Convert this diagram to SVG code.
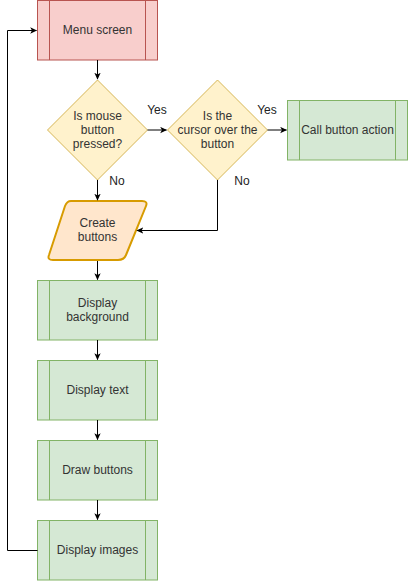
<svg xmlns="http://www.w3.org/2000/svg" width="408" height="581" viewBox="0 0 408 581">
<defs>
<marker id="arr" viewBox="0 0 10 10" refX="9" refY="5" markerWidth="7" markerHeight="7" markerUnits="userSpaceOnUse" orient="auto">
<path d="M0,0.5 L10,5 L0,9.5 L2.5,5 Z" fill="#000"/>
</marker>
</defs>
<style>
text{font-family:"Liberation Sans",Arial,sans-serif;font-size:12px;fill:#333;text-anchor:middle;}
.lbl{fill:#222;}
.red{fill:#f8cecc;stroke:#b85450;stroke-width:1;}
.green{fill:#d5e8d4;stroke:#82b366;stroke-width:1;}
.yellow{fill:#fff2cc;stroke:#d6b656;stroke-width:1;}
.orange{fill:#ffe6cc;stroke:#d79b00;stroke-width:2;}
.edge{fill:none;stroke:#000;stroke-width:1;marker-end:url(#arr);}
</style>
<rect width="408" height="581" fill="#fff"/>
<g id="menu">
<rect class="red" x="37.5" y="0.5" width="120" height="59.5"/>
<line class="red" x1="49.5" y1="0.5" x2="49.5" y2="60"/>
<line class="red" x1="145.5" y1="0.5" x2="145.5" y2="60"/>
<text x="97.5" y="34">Menu screen</text>
</g>
<g id="d1">
<path class="yellow" d="M97.5,80 L147.5,130 L97.5,180 L47.5,130 Z"/>
<text x="97.5" y="120">Is mouse</text>
<text x="97.5" y="134">button</text>
<text x="97.5" y="148">pressed?</text>
</g>
<g id="d2">
<path class="yellow" d="M217.5,80 L267.5,130 L217.5,180 L167.5,130 Z"/>
<text x="217.5" y="120">Is the</text>
<text x="217.5" y="134">cursor over the</text>
<text x="217.5" y="148">button</text>
</g>
<g id="call">
<rect class="green" x="287.5" y="100.5" width="120" height="59.5"/>
<line class="green" x1="299.5" y1="100.5" x2="299.5" y2="160"/>
<line class="green" x1="395.5" y1="100.5" x2="395.5" y2="160"/>
<text x="347.5" y="134">Call button action</text>
</g>
<g id="create">
<path class="orange" d="M71,201 L142,201 Q148,201 146,206 L126,255 Q124,260 118,260 L53,260 Q47,260 49,255 L65,206 Q67,201 71,201 Z"/>
<text x="97.5" y="227">Create</text>
<text x="97.5" y="241">buttons</text>
</g>
<g id="bg">
<rect class="green" x="37.5" y="280.5" width="120" height="59.5"/>
<line class="green" x1="49.5" y1="280.5" x2="49.5" y2="340"/>
<line class="green" x1="145.5" y1="280.5" x2="145.5" y2="340"/>
<text x="97.5" y="307">Display</text>
<text x="97.5" y="321">background</text>
</g>
<g id="txt">
<rect class="green" x="37.5" y="360.5" width="120" height="59.5"/>
<line class="green" x1="49.5" y1="360.5" x2="49.5" y2="420"/>
<line class="green" x1="145.5" y1="360.5" x2="145.5" y2="420"/>
<text x="97.5" y="394">Display text</text>
</g>
<g id="draw">
<rect class="green" x="37.5" y="440.5" width="120" height="59.5"/>
<line class="green" x1="49.5" y1="440.5" x2="49.5" y2="500"/>
<line class="green" x1="145.5" y1="440.5" x2="145.5" y2="500"/>
<text x="97.5" y="474">Draw buttons</text>
</g>
<g id="img">
<rect class="green" x="37.5" y="520.5" width="120" height="59.5"/>
<line class="green" x1="49.5" y1="520.5" x2="49.5" y2="580"/>
<line class="green" x1="145.5" y1="520.5" x2="145.5" y2="580"/>
<text x="97.5" y="554">Display images</text>
</g>
<g id="edges">
<path class="edge" d="M97.5,60 L97.5,79"/>
<path class="edge" d="M147.5,130 L166.5,130"/>
<path class="edge" d="M267.5,130 L286.5,130"/>
<path class="edge" d="M97.5,180 L97.5,200"/>
<path class="edge" d="M217.5,180 L217.5,230.5 L137,230.5"/>
<path class="edge" d="M97.5,261 L97.5,279.5"/>
<path class="edge" d="M97.5,340 L97.5,359.5"/>
<path class="edge" d="M97.5,420 L97.5,439.5"/>
<path class="edge" d="M97.5,500 L97.5,519.5"/>
<path class="edge" d="M37.5,550.5 L7.5,550.5 L7.5,30.5 L36.5,30.5"/>
<text class="lbl" x="157" y="114">Yes</text>
<text class="lbl" x="267" y="114">Yes</text>
<text class="lbl" x="117" y="185">No</text>
<text class="lbl" x="242" y="185">No</text>
</g>
</svg>
